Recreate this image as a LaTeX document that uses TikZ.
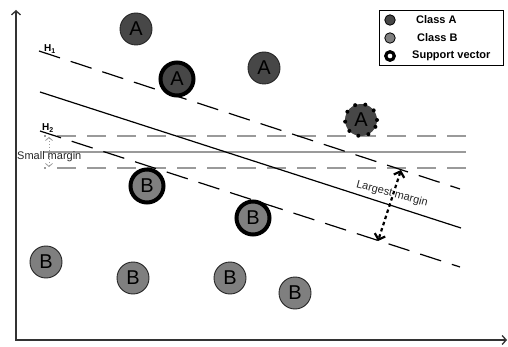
\documentclass[tikz,border=0pt]{standalone}
\usepackage{fontspec}
\setmainfont{Liberation Sans}
\usetikzlibrary{arrows.meta}
\definecolor{clsA}{HTML}{474747}
\definecolor{clsB}{HTML}{7F7F7F}
\definecolor{mgray}{HTML}{9A9A9A}
\definecolor{axiscol}{HTML}{333333}
\begin{document}
\begin{tikzpicture}[x=1pt,y=-1pt,
  pt/.style={circle,draw=black!85,line width=0.9pt,minimum size=32pt,inner sep=0pt,font=\fontsize{20}{24}\selectfont},
  ptA/.style={pt,fill=clsA},
  ptB/.style={pt,fill=clsB},
  sv/.style={line width=4pt,draw=black,minimum size=33pt},
  hyper/.style={line width=1.2pt,dash pattern=on 22pt off 11.3pt},
  gline/.style={mgray,line width=1.4pt},
  gdash/.style={mgray,line width=1.4pt,dash pattern=on 18.5pt off 11.5pt,dash phase=17pt},
  axis/.style={axiscol,line width=1.3pt,{Straight Barb[length=4pt,width=9pt]}-{Straight Barb[length=4pt,width=9pt]}},
  hlabel/.style={font=\fontsize{10}{12}\selectfont\bfseries,inner sep=0pt,anchor=base west},
  legtext/.style={font=\fontsize{11}{13}\selectfont\bfseries,inner sep=0pt,anchor=west},
  legdot/.style={circle,draw=black,line width=0.8pt,minimum size=10.5pt,inner sep=0pt}
]
\useasboundingbox[fill=white] (0,0) rectangle (508,347);

% axes
\coordinate (ytop) at (16,10);
\coordinate (orig) at (16,340);
\coordinate (xend) at (507,340);
\draw[axis] (ytop) -- (orig) -- (xend);

% horizontal (small margin) lines
\coordinate (g1s) at (44,136); \coordinate (g1e) at (466,136);
\coordinate (g2s) at (44,152); \coordinate (g2e) at (466,152);
\coordinate (g3s) at (44,168); \coordinate (g3e) at (466,168);
\draw[gdash] (g1s) -- (g1e);
\draw[gline] (g2s) -- (g2e);
\draw[gdash] (g3s) -- (g3e);

% sloped (largest margin) lines
\coordinate (h1s) at (39,51);  \coordinate (h1e) at (460,189);
\coordinate (ms)  at (40,92);  \coordinate (me)  at (461,228);
\coordinate (h2s) at (40,131); \coordinate (h2e) at (460,267);
\draw[hyper] (h1s) -- (h1e);
\draw[line width=1.2pt] (ms) -- (me);
\draw[hyper] (h2s) -- (h2e);

% labels H1, H2
\node[hlabel] (lh1) at (44,52) {H\textsubscript{1}};
\node[hlabel] (lh2) at (42,131) {H\textsubscript{2}};

% small margin arrow
\coordinate (sm1) at (49,137);
\coordinate (sm2) at (49,167);
\draw[mgray,line width=0.8pt,dash pattern=on 1.5pt off 1.5pt,{Straight Barb[length=3pt,width=7pt]}-{Straight Barb[length=3pt,width=7pt]}] (sm1) -- (sm2);
\node[font=\fontsize{11}{13}\selectfont,inner sep=0pt,anchor=base west,text=black!85] (smalltxt) at (17,160) {Small margin};

% class A points
\node[ptA] (a1) at (136,29) {A};
\node[ptA,sv] (a2) at (177,79) {A};
\node[ptA] (a3) at (264,68) {A};
\node[ptA,draw=none] (a4) at (361,120) {A};
\draw[black,line width=4pt,dash pattern=on 0pt off 10.37pt,line cap=round] (a4.center) circle[radius=16pt];

% class B points
\node[ptB,sv] (b1) at (147,186) {B};
\node[ptB,sv] (b2) at (253,218) {B};
\node[ptB] (b3) at (46,262) {B};
\node[ptB] (b4) at (133,278) {B};
\node[ptB] (b5) at (230,278) {B};
\node[ptB] (b6) at (295,293) {B};

% largest margin arrow
\coordinate (lm1) at (401,170);
\coordinate (lm2) at (378,241);
\draw[black,line width=2.2pt,dash pattern=on 3.5pt off 3pt,{Straight Barb[length=5pt,width=11pt]}-{Straight Barb[length=5pt,width=11pt]}] (lm1) -- (lm2);
\node[font=\fontsize{11}{13}\selectfont,inner sep=0pt,rotate=-15,text=black!85] (lmtxt) at (392,194) {Largest margin};

% legend
\node[draw=black,line width=1.2pt,minimum width=124pt,minimum height=55pt,inner sep=0pt,anchor=north west] (legend) at (379,10) {};
\node[legdot,fill=clsA] (lda) at (390,20) {};
\node[legdot,fill=clsB] (ldb) at (390,38) {};
\node[circle,draw=black,line width=3.2pt,fill=white,minimum size=8.5pt,inner sep=0pt] (lds) at (390,56) {};
\node[legtext] (lta) at (416,20) {Class A};
\node[legtext] (ltb) at (417,38) {Class B};
\node[legtext] (lts) at (412,56) {Support vector};
\end{tikzpicture}
\end{document}
